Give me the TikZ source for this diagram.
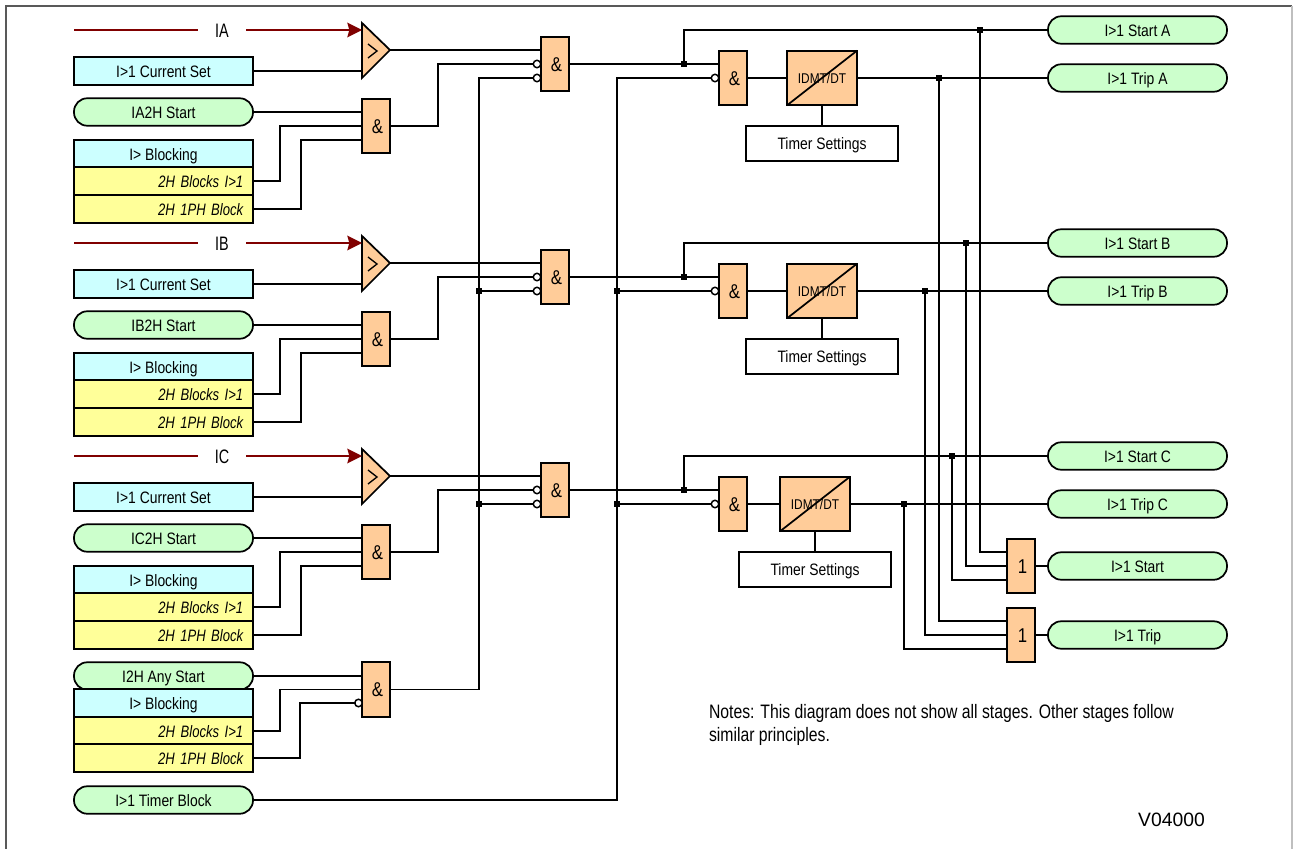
\documentclass[tikz,border=0pt]{standalone}
\usepackage{fontspec}
\setmainfont[FakeStretch=0.84]{Liberation Sans}
\newfontfamily\plainfont{Liberation Sans}
\newfontfamily\yelfont[FakeStretch=0.79]{Liberation Sans}
\newfontfamily\notefont[FakeStretch=0.81]{Liberation Sans}
\newfontfamily\phfont[FakeStretch=0.74]{Liberation Sans}
\usetikzlibrary{arrows.meta}
\definecolor{cblue}{HTML}{CCFFFF}
\definecolor{cyel}{HTML}{FFFF99}
\definecolor{cgrn}{HTML}{CCFFCC}
\definecolor{corg}{HTML}{FFCC99}
\definecolor{cred}{HTML}{800000}
\newcommand{\gl}[1]{\hspace*{2.2pt}#1}
\tikzset{
  x=0.75pt,y=-0.75pt,
  wire/.style={line width=1.3pt,line cap=rect,line join=miter},
  base/.style={draw,line width=1.3pt,inner sep=0pt,outer sep=0pt,font=\fontsize{12.4}{14}\selectfont,text height=9.6pt,text depth=0pt},
  wbox/.style={base,rectangle,minimum width=134.25pt,minimum height=20.6pt},
  bluebox/.style={wbox,fill=cblue},
  yelbox/.style={wbox,fill=cyel,font=\yelfont\fontsize{12.4}{14}\selectfont\itshape,text width=119.5pt,align=right},
  pill/.style={wbox,fill=cgrn,rounded corners=10pt},
  gate/.style={base,fill=corg,minimum width=21pt,minimum height=41pt,font=\fontsize{15}{17}\selectfont,text height=11pt},
  idmt/.style={base,fill=corg,minimum width=52.5pt,minimum height=41pt,font=\fontsize{10.6}{12}\selectfont,text height=8pt},
  tset/.style={base,fill=white,minimum width=114pt,minimum height=26.25pt},
  neg/.style={draw,fill=white,circle,line width=1.1pt,inner sep=0pt,outer sep=0pt,minimum size=5.6pt},
  dot/.style={fill=black,rectangle,inner sep=0pt,outer sep=0pt,minimum size=5.2pt},
  phase/.style={inner sep=0pt,outer sep=0pt,minimum width=36pt,font=\phfont\fontsize{14.6}{16}\selectfont,text height=10.6pt,text depth=0pt},
  red/.style={draw=cred,line width=1.3pt},
  note/.style={inner sep=0pt,outer sep=0pt,font=\notefont\fontsize{14.6}{17}\selectfont,align=left,anchor=north west}
}
\begin{document}
\begin{tikzpicture}
\useasboundingbox (0,0) rectangle (1293,849);
\draw[line width=1.4pt,draw=black!65] (6,849) -- (6,6) -- (1292,6);
\draw[line width=1pt,draw=black!25] (1292,6) -- (1292,849);

% buses end points
\coordinate (busS) at (479,689.5);
\coordinate (busT) at (617,800);

% output gates
\node[gate] (orS) at (1021,566) {\gl{1}};
\node[gate] (orT) at (1021,635) {\gl{1}};
\node[pill] (outS) at (1137.5,566) {I>1 Start};
\node[pill] (outT) at (1137.5,635) {I>1 Trip};
\draw[wire] (orS.east) -- (outS.west);
\draw[wire] (orT.east) -- (outT.west);

\foreach \t/\dy/\dx/\sx/\tx/\si/\ti in {A/0/0/980/939/552/621,B/213/0/966/925/566/635,C/426/-7/952/904/580/649}{
  % inputs
  \coordinate (rs\t) at (74,30+\dy);
  \node[phase] (ph\t) at (222,30+\dy) {I\t};
  \node[bluebox] (cs\t) at (163.5,71+\dy) {I>1 Current Set};
  \node[pill] (h\t) at (163.5,112+\dy) {I\t2H Start};
  \node[bluebox] (bk\t) at (163.5,154+\dy) {I> Blocking};
  \node[yelbox] (b2\t) at (163.5,181+\dy) {2H Blocks I>1};
  \node[yelbox] (b1\t) at (163.5,209+\dy) {2H 1PH Block};
  % comparator
  \coordinate (ci\t) at (362,30+\dy);
  \coordinate (cj\t) at (362,71+\dy);
  \coordinate (co\t) at (390,50+\dy);
  \draw[wire,fill=corg] (362,23+\dy) -- (362,78+\dy) -- (co\t) -- cycle;
  \draw[line width=1pt] (368,44+\dy) -- (377,51+\dy) -- (368,58+\dy);
  \draw[red] (rs\t) -- (ph\t.west);
  \draw[red,-{Stealth[length=11pt,width=11pt,inset=1.5pt]}] (ph\t.east) -- (ci\t);
  \draw[wire] (cs\t.east) -- (cj\t);
  % AND 2H
  \node[gate] (ah\t) at (376,126+\dy) {\gl{\&}};
  \draw[wire] (h\t.east) -- (ah\t.west |- h\t.east);
  \draw[wire] (b2\t.east) -- ++(27,0) |- (ah\t.west);
  \draw[wire] (b1\t.east) -- ++(48,0) |- (ah\t.west |- 0,140+\dy);
  % main AND
  \node[gate] (m\t) at (555,64+\dy) {\gl{\&}};
  \node[neg] (n1\t) at (537,64+\dy) {};
  \node[neg] (n2\t) at (537,78+\dy) {};
  \draw[wire] (co\t) -- (m\t.west |- co\t);
  \draw[wire] (ah\t.east) -- ++(48,0) |- (n1\t.west);
  % delayed AND
  \node[gate] (d\t) at (733,78+\dy) {\gl{\&}};
  \node[neg] (n3\t) at (715,78+\dy) {};
  \node[idmt] (t\t) at (822+\dx,78+\dy) {IDMT/DT};
  \draw[line width=1.3pt] (t\t.south west) -- (t\t.north east);
  \node[tset] (s\t) at (822+\dx,143.5+\dy) {Timer Settings};
  \draw[wire] (t\t.south) -- (s\t.north);
  \draw[wire] (m\t.east) -- (d\t.west |- m\t.east);
  \draw[wire] (d\t.east) -- (t\t.west);
  % outputs
  \node[pill] (st\t) at (1137.5,30+\dy) {I>1 Start \t};
  \node[pill] (tr\t) at (1137.5,78+\dy) {I>1 Trip \t};
  \node[dot] (j\t) at (684,64+\dy) {};
  \draw[wire] (j\t) -- (684,30+\dy) -- (st\t.west);
  \draw[wire] (t\t.east) -- (tr\t.west);
  \node[dot] (js\t) at (\sx,30+\dy) {};
  \node[dot] (jt\t) at (\tx,78+\dy) {};
  \draw[wire] (js\t) |- (orS.west |- 0,\si);
  \draw[wire] (jt\t) |- (orT.west |- 0,\ti);
}

% fourth 2H group
\node[pill] (hN) at (163.5,676) {I2H Any Start};
\node[bluebox] (bkN) at (163.5,703) {I> Blocking};
\node[yelbox] (b2N) at (163.5,731) {2H Blocks I>1};
\node[yelbox] (b1N) at (163.5,758) {2H 1PH Block};
\node[pill] (tb) at (163.5,800) {I>1 Timer Block};
\node[gate] (ahN) at (376,689.5) {\gl{\&}};
\node[neg] (nN) at (358.5,703) {};
\draw[wire] (hN.east) -- (ahN.west |- hN.east);
\draw[wire] (b2N.east) -- ++(27,0) |- (ahN.west);
\draw[wire] (b1N.east) -- ++(47,0) |- (nN.west);

% buses
\node[dot] (dsB) at (479,291) {};
\node[dot] (dsC) at (479,504) {};
\node[dot] (dtB) at (617,291) {};
\node[dot] (dtC) at (617,504) {};
\draw[wire] (ahN.east) -- (busS) |- (n2A.west);
\draw[wire] (dsB) -- (n2B.west);
\draw[wire] (dsC) -- (n2C.west);
\draw[wire] (tb.east) -| (busT) |- (n3A.west);
\draw[wire] (dtB) -- (n3B.west);
\draw[wire] (dtC) -- (n3C.west);

\node[note] (notes) at (709,704.8) {Notes: This diagram does not show all stages. Other stages follow\\similar principles.};
\node[inner sep=0pt,font=\plainfont\fontsize{14.5}{16}\selectfont] (ver) at (1171.5,820) {V04000};
\end{tikzpicture}
\end{document}
